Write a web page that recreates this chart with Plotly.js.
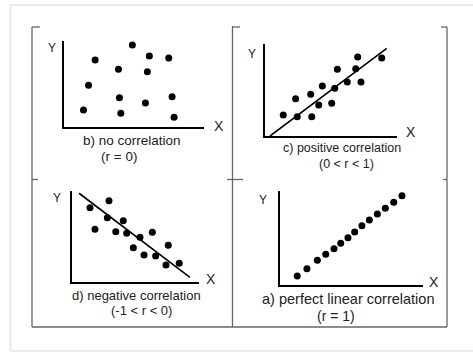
<!DOCTYPE html>
<html>
<head>
<meta charset="utf-8">
<script src="https://cdn.plot.ly/plotly-3.0.1.min.js"></script>
<style>html,body{margin:0;padding:0;background:#fff;}#chart{width:473px;height:352px;}</style>
</head>
<body>
<div id="chart"></div>
<script>
// ---- Data (axis units 0..10) ----
const noCorrX = [1.42, 1.78, 2.25, 3.91, 3.98, 4.08, 4.90, 5.83, 5.97, 6.11, 7.49, 7.73, 7.87];
const noCorrY = [1.98, 4.85, 7.79, 6.71, 3.41, 1.59, 9.53, 2.79, 6.43, 8.26, 8.02, 3.52, 1.13];

const posCorrX = [1.42, 2.36, 2.48, 3.50, 3.58, 4.11, 4.38, 5.09, 5.32, 5.52, 6.27, 6.91, 7.06, 7.31, 8.88];
const posCorrY = [2.28, 4.05, 2.09, 4.53, 2.09, 3.37, 5.43, 3.55, 5.18, 7.25, 5.88, 7.32, 8.59, 5.87, 8.48];
const posLineX = [0.42, 9.26];
const posLineY = [0.00, 9.53];

const negCorrX = [1.45, 1.84, 2.94, 2.81, 3.47, 4.06, 4.33, 4.85, 5.37, 5.69, 6.34, 6.60, 7.41, 7.59, 8.45];
const negCorrY = [8.15, 5.77, 8.93, 7.05, 5.50, 6.72, 5.33, 3.74, 4.88, 2.93, 5.44, 2.82, 1.82, 4.00, 2.01];
const negLineX = [0.59, 9.29];
const negLineY = [9.75, 0.46];

const perfX = [1.21, 1.89, 2.62, 3.21, 3.79, 4.26, 4.77, 5.24, 5.75, 6.27, 6.83, 7.39, 7.98, 8.56];
const perfY = [0.96, 1.73, 2.63, 3.26, 3.86, 4.44, 5.03, 5.64, 6.31, 6.91, 7.55, 8.16, 8.80, 9.50];

const captions = [
  "b) no correlation", "(r = 0)",
  "c) positive correlation", "(0 < r < 1)",
  "d) negative correlation", "(-1 < r < 0)",
  "a) perfect linear correlation", "(r = 1)"
];
const axisLabelX = "X";
const axisLabelY = "Y";

// ---- Layout helpers (pixel -> paper) ----
const W = 473, H = 352;
const px = v => v / W;
const py = v => 1 - v / H;

const FONT = '"Liberation Sans", Arial, sans-serif';
const marker = {color: '#000', size: 7};

const traces = [
  {x: noCorrX, y: noCorrY, xaxis: 'x', yaxis: 'y', mode: 'markers', type: 'scatter', marker: marker, cliponaxis: false},
  {x: posCorrX, y: posCorrY, xaxis: 'x2', yaxis: 'y2', mode: 'markers', type: 'scatter', marker: marker, cliponaxis: false},
  {x: posLineX, y: posLineY, xaxis: 'x2', yaxis: 'y2', mode: 'lines', type: 'scatter', line: {color: '#000', width: 1.6}, cliponaxis: false},
  {x: negCorrX, y: negCorrY, xaxis: 'x3', yaxis: 'y3', mode: 'markers', type: 'scatter', marker: marker, cliponaxis: false},
  {x: negLineX, y: negLineY, xaxis: 'x3', yaxis: 'y3', mode: 'lines', type: 'scatter', line: {color: '#000', width: 1.6}, cliponaxis: false},
  {x: perfX, y: perfY, xaxis: 'x4', yaxis: 'y4', mode: 'markers', type: 'scatter', marker: marker, cliponaxis: false}
];

// panel boxes in pixels: [left, right, top, bottom]
const boxes = [
  [63.5, 204, 41, 127],
  [264.5, 396.5, 44, 136],
  [71.5, 199, 191, 281.5],
  [280, 422.5, 191, 285]
];

function axX(b, anchor) {
  return {domain: [px(b[0]), px(b[1])], range: [0, 10], anchor: anchor, showline: true, linecolor: '#000', linewidth: 2,
          showgrid: false, zeroline: false, showticklabels: false, ticks: '', fixedrange: true};
}
function axY(b, anchor) {
  return {domain: [py(b[3]), py(b[2])], range: [0, 10], anchor: anchor, showline: true, linecolor: '#000', linewidth: 2,
          showgrid: false, zeroline: false, showticklabels: false, ticks: '', fixedrange: true};
}

function ann(text, x, y, size) {
  return {text: text, x: px(x), y: py(y), xref: 'paper', yref: 'paper', showarrow: false,
          xanchor: 'center', yanchor: 'middle', font: {family: FONT, size: size, color: '#222'}};
}

const annotations = [
  ann(axisLabelY, 52, 48, 12), ann(axisLabelX, 219, 126, 14),
  ann(axisLabelY, 252, 54, 12), ann(axisLabelX, 411, 132, 14),
  ann(axisLabelY, 57, 198, 12), ann(axisLabelX, 211, 278.5, 14),
  ann(axisLabelY, 263, 200, 12), ann(axisLabelX, 433.5, 282, 14),
  ann(captions[0], 132, 140.5, 13.5), ann(captions[1], 119, 156.5, 13.5),
  ann(captions[2], 342, 148, 12.5), ann(captions[3], 346, 164, 12.5),
  ann(captions[4], 136, 295.5, 13), ann(captions[5], 141, 310.5, 13),
  ann(captions[6], 348, 299, 14.5), ann(captions[7], 335.5, 315.5, 14)
];

function seg(x0, y0, x1, y1, color, width) {
  return {type: 'line', xref: 'paper', yref: 'paper', x0: px(x0), y0: py(y0), x1: px(x1), y1: py(y1),
          line: {color: color, width: width}, layer: 'above'};
}
const FR = '#666', FW = 1.3, GR = '#e4e4e4';
const shapes = [
  // light page border
  seg(10.5, 5, 473, 5, GR, 1.5),
  seg(10.5, 5, 10.5, 351, GR, 1.5),
  seg(10.5, 351, 473, 351, GR, 1.5),
  // left
  seg(32, 27, 32, 327, FR, FW), seg(32, 27, 40, 27, FR, FW), seg(32, 179.5, 38, 179.5, FR, FW),
  // bottom
  seg(32, 327, 447, 327, FR, FW),
  // middle
  seg(232.5, 26, 232.5, 327, FR, FW), seg(232.5, 27, 240, 27, FR, FW), seg(227, 179.5, 243, 179.5, FR, FW),
  // right
  seg(447, 27, 447, 327, FR, FW), seg(441, 27, 447, 27, FR, FW), seg(443, 179.5, 447, 179.5, FR, FW)
];

const layout = {
  width: W, height: H,
  margin: {l: 0, r: 0, t: 0, b: 0, pad: 0},
  paper_bgcolor: '#fff', plot_bgcolor: 'rgba(0,0,0,0)',
  showlegend: false,
  xaxis: axX(boxes[0], 'y'), yaxis: axY(boxes[0], 'x'),
  xaxis2: axX(boxes[1], 'y2'), yaxis2: axY(boxes[1], 'x2'),
  xaxis3: axX(boxes[2], 'y3'), yaxis3: axY(boxes[2], 'x3'),
  xaxis4: axX(boxes[3], 'y4'), yaxis4: axY(boxes[3], 'x4'),
  annotations: annotations,
  shapes: shapes,
  font: {family: FONT}
};

Plotly.newPlot('chart', traces, layout, {displayModeBar: false, staticPlot: true});
</script>
</body>
</html>
